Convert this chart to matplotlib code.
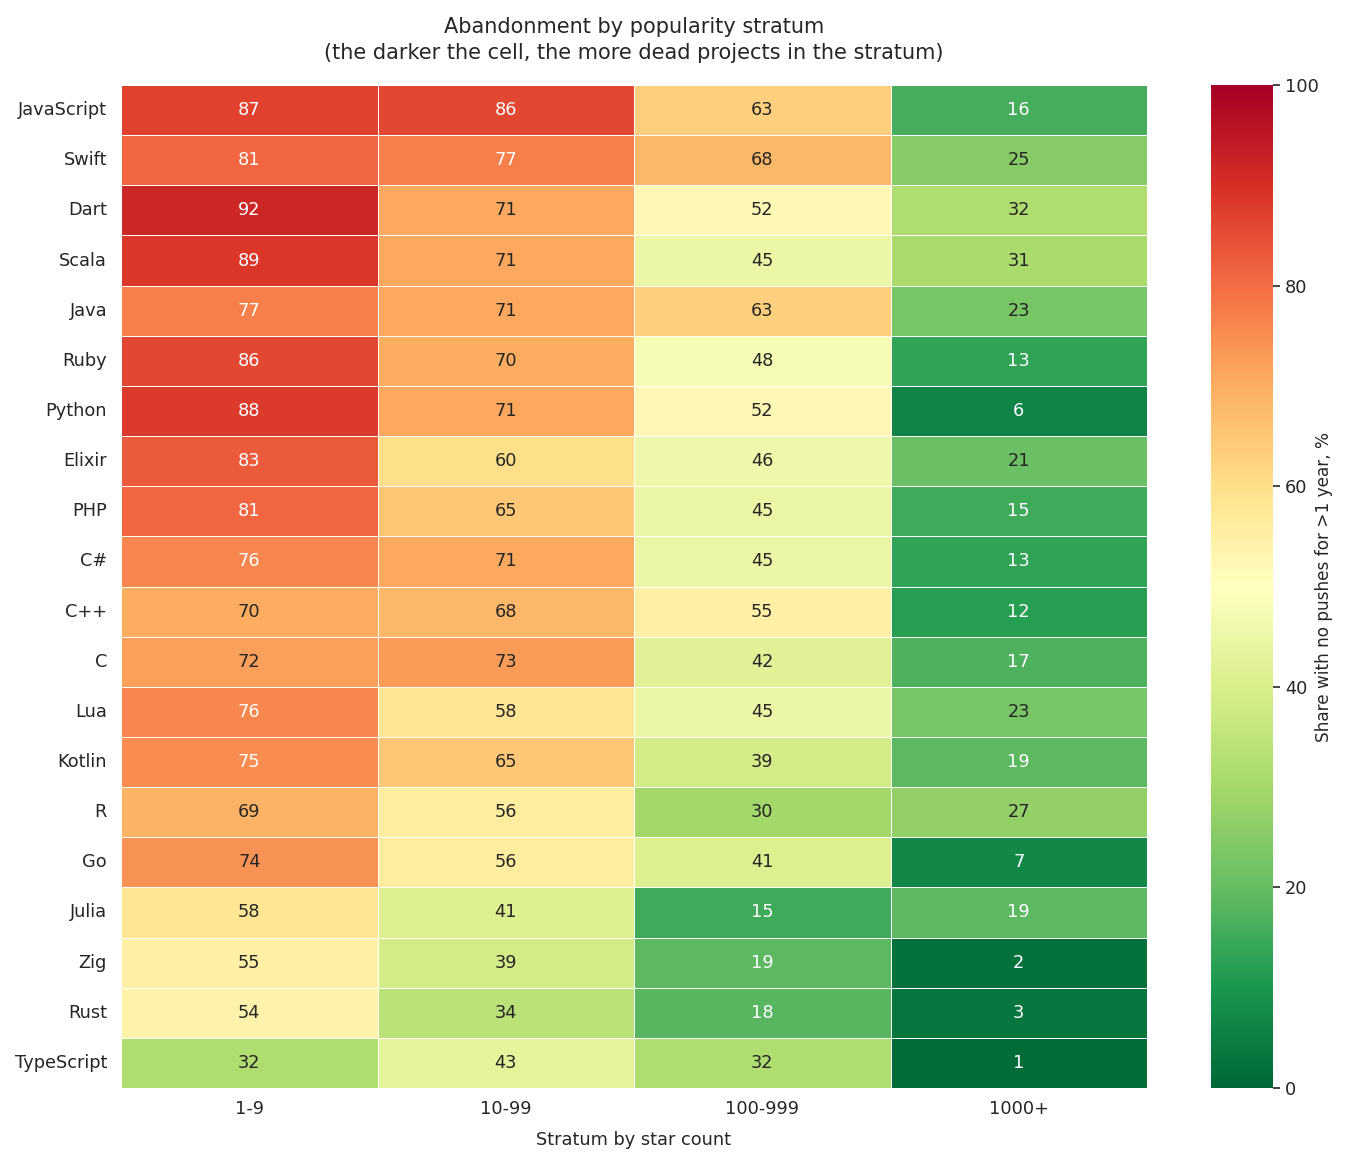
import numpy as np
import pandas as pd
import matplotlib
matplotlib.use("Agg")
import matplotlib.pyplot as plt
import seaborn as sns

languages = ["JavaScript", "Swift", "Dart", "Scala", "Java", "Ruby", "Python",
             "Elixir", "PHP", "C#", "C++", "C", "Lua", "Kotlin", "R", "Go",
             "Julia", "Zig", "Rust", "TypeScript"]
strata = ["1-9", "10-99", "100-999", "1000+"]

s_1_9 = [87, 81, 92, 89, 77, 86, 88, 83, 81, 76, 70, 72, 76, 75, 69, 74, 58, 55, 54, 32]
s_10_99 = [86, 77, 71, 71, 71, 70, 71, 60, 65, 71, 68, 73, 58, 65, 56, 56, 41, 39, 34, 43]
s_100_999 = [63, 68, 52, 45, 63, 48, 52, 46, 45, 45, 55, 42, 45, 39, 30, 41, 15, 19, 18, 32]
s_1000 = [16, 25, 32, 31, 23, 13, 6, 21, 15, 13, 12, 17, 23, 19, 27, 7, 19, 2, 3, 1]

df = pd.DataFrame({"1-9": s_1_9, "10-99": s_10_99,
                   "100-999": s_100_999, "1000+": s_1000}, index=languages)[strata]

sns.set_style("white")
plt.rcParams["font.family"] = ["DejaVu Sans"]

fig = plt.figure(figsize=(13.46, 11.57), dpi=100)
ax = fig.add_axes([121 / 1346, 1 - 1088 / 1157, (1147 - 121) / 1346, (1088 - 85) / 1157])
cax = fig.add_axes([1211 / 1346, 1 - 1088 / 1157, (1273 - 1211) / 1346, (1088 - 85) / 1157])

sns.heatmap(df, ax=ax, cbar_ax=cax, cmap="RdYlGn_r", vmin=0, vmax=100,
            annot=True, fmt="d", linewidths=0.6, linecolor="white",
            annot_kws={"fontsize": 12.8})

ax.set_title("Abandonment by popularity stratum\n"
             "(the darker the cell, the more dead projects in the stratum)",
             fontsize=15, pad=19, linespacing=1.35)
ax.set_xlabel("Stratum by star count", fontsize=12.8, labelpad=9)
ax.set_ylabel("")
ax.tick_params(axis="x", labelsize=12.8, length=0, pad=9)
ax.tick_params(axis="y", labelsize=12.8, length=0, pad=10)
plt.setp(ax.get_yticklabels(), rotation=0)
plt.setp(ax.get_xticklabels(), rotation=0)

cax.tick_params(labelsize=12.8, length=5, width=1.2)
cax.set_ylabel("Share with no pushes for >1 year, %", fontsize=12.2, labelpad=-3)

fig.savefig("out.png", dpi=100)
